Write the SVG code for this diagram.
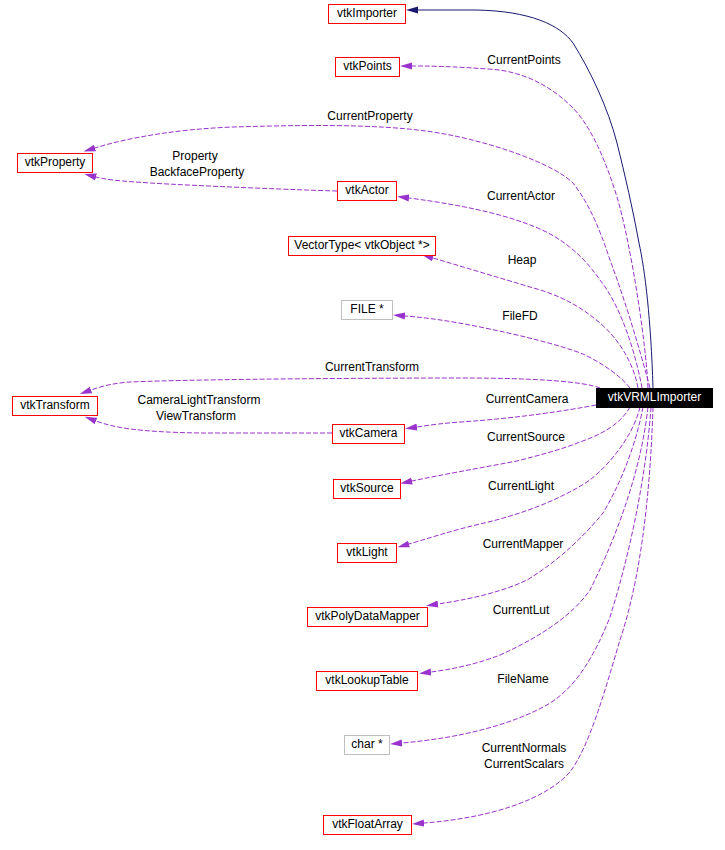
<svg xmlns="http://www.w3.org/2000/svg" width="725" height="850" viewBox="0 0 725 850">
<style>
text{font-family:"Liberation Sans",Arial,sans-serif;font-size:12px;fill:#000}
.n{text-anchor:middle}
.box{fill:#fff;stroke:#ff0000;stroke-width:1}
.gbox{fill:#fff;stroke:#bfbfbf;stroke-width:1}
.e{fill:none;stroke:#9a32cd;stroke-width:1;stroke-dasharray:5,2}
.inh{fill:none;stroke:#191970;stroke-width:1}
.lbl{text-anchor:middle}
</style>
<defs>
<marker id="ap" markerUnits="userSpaceOnUse" markerWidth="12" markerHeight="8" viewBox="0 0 12 8" refX="0" refY="4" orient="auto"><path d="M0,0.5 L12,4 L0,7.5 z" fill="#9a32cd"/></marker>
<marker id="an" markerUnits="userSpaceOnUse" markerWidth="12" markerHeight="8" viewBox="0 0 12 8" refX="0" refY="4" orient="auto"><path d="M0,0.5 L12,4 L0,7.5 z" fill="#191970"/></marker>
</defs>
<rect width="725" height="850" fill="#fff"/>
<g id="edges">
<path class="inh" marker-end="url(#an)" d="M653,388 C651,320 645,270 639,243 C633,210 625,175 617,143 C608,108 590,70 573,43 C560,25 530,11 476,10 L418,10"/>
<path class="e" marker-end="url(#ap)" d="M648,388 C646,340 630,240 617,197 C605,158 590,125 572,107 C550,85 520,70 487,69 C460,67 440,66 412,66"/>
<path class="e" marker-end="url(#ap)" d="M650,388 C640,350 625,300 610,260 C600,230 590,205 573,183 C555,165 500,145 450,135 C400,125 333,124 233,127 C180,129 130,137 95,148"/>
<path class="e" marker-end="url(#ap)" d="M337,191 C300,190 200,186 150,183 C120,181 108,180 96,177"/>
<path class="e" marker-end="url(#ap)" d="M642,388 C635,350 620,305 600,280 C585,258 565,240 540,229 C510,216 470,206 409,198"/>
<path class="e" marker-end="url(#ap)" d="M638,388 C634,365 620,340 600,323 C580,306 560,295 530,287 C500,278 460,266 433,258"/>
<path class="e" marker-end="url(#ap)" d="M630,388 C620,375 600,362 583,354 C560,345 520,335 480,327 C450,321 430,318 405,316"/>
<path class="e" marker-end="url(#ap)" d="M600,388 C585,382 540,378 461,378 C380,378 200,379 130,382 C115,383 102,386 91,390"/>
<path class="e" marker-end="url(#ap)" d="M332,433 L200,433 C140,432 115,428 96,421"/>
<path class="e" marker-end="url(#ap)" d="M596,405 C570,410 520,418 461,422 C445,423 430,425 417,427"/>
<path class="e" marker-end="url(#ap)" d="M630,407 C620,425 600,435 580,442 C560,450 540,455 517,461 C480,468 440,475 412,481"/>
<path class="e" marker-end="url(#ap)" d="M640,407 C635,430 615,460 590,480 C560,500 520,515 480,524 C450,531 430,538 409,544"/>
<path class="e" marker-end="url(#ap)" d="M643,407 C636,445 620,485 603,513 C585,535 560,560 527,580 C500,593 465,600 438,604"/>
<path class="e" marker-end="url(#ap)" d="M648,407 C640,480 610,550 590,590 C575,612 545,635 500,655 C480,663 455,669 431,672"/>
<path class="e" marker-end="url(#ap)" d="M651,407 C646,480 628,560 610,617 C595,655 575,690 545,706 C510,725 460,738 402,743"/>
<path class="e" marker-end="url(#ap)" d="M653,407 C650,500 640,580 620,640 C605,690 590,745 570,772 C545,800 490,818 424,823"/>
<text class="lbl" x="524" y="64">CurrentPoints</text>
<text class="lbl" x="370" y="120">CurrentProperty</text>
<text class="lbl" x="195" y="160">Property</text>
<text class="lbl" x="197" y="176">BackfaceProperty</text>
<text class="lbl" x="521" y="200">CurrentActor</text>
<text class="lbl" x="522" y="264">Heap</text>
<text class="lbl" x="520" y="320">FileFD</text>
<text class="lbl" x="372" y="371">CurrentTransform</text>
<text class="lbl" x="199" y="404">CameraLightTransform</text>
<text class="lbl" x="196" y="420">ViewTransform</text>
<text class="lbl" x="527" y="403">CurrentCamera</text>
<text class="lbl" x="526" y="441">CurrentSource</text>
<text class="lbl" x="521" y="490">CurrentLight</text>
<text class="lbl" x="523" y="548">CurrentMapper</text>
<text class="lbl" x="521" y="614">CurrentLut</text>
<text class="lbl" x="523" y="683">FileName</text>
<text class="lbl" x="524" y="752">CurrentNormals</text>
<text class="lbl" x="524" y="768">CurrentScalars</text>
</g>
<g id="vtkVRMLImporter"><rect x="596.5" y="388.5" width="116" height="19" fill="#000" stroke="#000"/><text class="n" x="654.5" y="401" style="fill:#fff">vtkVRMLImporter</text></g>
<g id="vtkImporter"><rect class="box" x="328.5" y="4.5" width="77" height="19"/><text class="n" x="367" y="17">vtkImporter</text></g>
<g id="vtkPoints"><rect class="box" x="335.5" y="57.5" width="64" height="19"/><text class="n" x="367.5" y="70">vtkPoints</text></g>
<g id="vtkProperty"><rect class="box" x="17.5" y="153.5" width="75" height="19"/><text class="n" x="55" y="166">vtkProperty</text></g>
<g id="vtkActor"><rect class="box" x="337.5" y="181.5" width="59" height="19"/><text class="n" x="367" y="194">vtkActor</text></g>
<g id="VectorType"><rect class="box" x="288.5" y="236.5" width="147" height="19"/><text class="n" x="362" y="249">VectorType&lt; vtkObject *&gt;</text></g>
<g id="FILE"><rect class="gbox" x="341.5" y="300.5" width="51" height="19"/><text class="n" x="367" y="313">FILE *</text></g>
<g id="vtkTransform"><rect class="box" x="12.5" y="396.5" width="85" height="19"/><text class="n" x="55" y="409">vtkTransform</text></g>
<g id="vtkCamera"><rect class="box" x="332.5" y="424.5" width="72" height="19"/><text class="n" x="368.5" y="437">vtkCamera</text></g>
<g id="vtkSource"><rect class="box" x="333.5" y="479.5" width="67" height="19"/><text class="n" x="367" y="492">vtkSource</text></g>
<g id="vtkLight"><rect class="box" x="337.5" y="543.5" width="59" height="19"/><text class="n" x="367" y="556">vtkLight</text></g>
<g id="vtkPolyDataMapper"><rect class="box" x="307.5" y="607.5" width="120" height="19"/><text class="n" x="367.5" y="620">vtkPolyDataMapper</text></g>
<g id="vtkLookupTable"><rect class="box" x="316.5" y="671.5" width="101" height="19"/><text class="n" x="367" y="684">vtkLookupTable</text></g>
<g id="char"><rect class="gbox" x="344.5" y="735.5" width="45" height="19"/><text class="n" x="367" y="748">char *</text></g>
<g id="vtkFloatArray"><rect class="box" x="323.5" y="815.5" width="88" height="19"/><text class="n" x="367.5" y="828">vtkFloatArray</text></g>
</svg>
